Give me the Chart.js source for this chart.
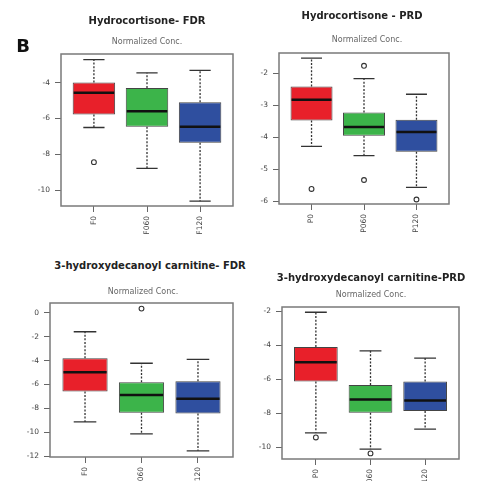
<!DOCTYPE html>
<html>
<head>
<meta charset="utf-8">
<script src="https://cdn.jsdelivr.net/npm/chart.js@4.4.1/dist/chart.umd.min.js"></script>
<style>
  body { margin: 0; background: #fff; }
  #page { position: relative; width: 480px; height: 481px; overflow: hidden; background: #fff; }
  canvas { position: absolute; }
  .txt { position: absolute; white-space: nowrap; transform: translateX(-50%); font-family: "DejaVu Sans", sans-serif; }
  .title { font-size: 10px; line-height: 12px; font-weight: bold; color: #222; }
  .sub { font-size: 8px; line-height: 10px; color: #666; }
</style>
</head>
<body>
<div id="page">
  <canvas id="c1" width="225" height="200" style="left:15px;top:40px"></canvas>
  <canvas id="c2" width="240" height="200" style="left:240px;top:40px"></canvas>
  <canvas id="c3" width="235" height="196" style="left:5px;top:285px"></canvas>
  <canvas id="c4" width="240" height="196" style="left:240px;top:285px"></canvas>

  <div class="txt" style="left:23px;top:36px;font-size:18px;line-height:20px;font-weight:bold;color:#111">B</div>
  <div class="txt title" style="left:147px;top:15px">Hydrocortisone- FDR</div>
  <div class="txt sub" style="left:147px;top:37px">Normalized Conc.</div>
  <div class="txt title" style="left:362px;top:10px">Hydrocortisone - PRD</div>
  <div class="txt sub" style="left:367px;top:35px">Normalized Conc.</div>
  <div class="txt title" style="left:150px;top:260px">3-hydroxydecanoyl carnitine- FDR</div>
  <div class="txt sub" style="left:143px;top:287px">Normalized Conc.</div>
  <div class="txt title" style="left:371px;top:272px">3-hydroxydecanoyl carnitine-PRD</div>
  <div class="txt sub" style="left:371px;top:290px">Normalized Conc.</div>
</div>
<script>
const fdrLabels = ['F0', 'F060', 'F120'];
const prdLabels = ['P0', 'P060', 'P120'];
const boxColors = ['#e8202a', '#3cb44a', '#2f4f9f'];

// Hydrocortisone - FDR
const hcFdrLow = [-6.5, -8.78, -10.6];
const hcFdrQ1 = [-5.78, -6.46, -7.35];
const hcFdrMed = [-4.57, -5.59, -6.46];
const hcFdrQ3 = [-4.0, -4.3, -5.09];
const hcFdrHigh = [-2.72, -3.46, -3.32];
const hcFdrOut = [[-8.43], [], []];
const hcFdrTicks = [-10, -8, -6, -4];

// Hydrocortisone - PRD
const hcPrdLow = [-4.29, -4.58, -5.57];
const hcPrdQ1 = [-3.48, -3.96, -4.46];
const hcPrdMed = [-2.83, -3.68, -3.84];
const hcPrdQ3 = [-2.42, -3.23, -3.46];
const hcPrdHigh = [-1.53, -2.17, -2.66];
const hcPrdOut = [[-5.62], [-1.77, -5.34], [-5.95]];
const hcPrdTicks = [-6, -5, -4, -3, -2];

// 3-hydroxydecanoyl carnitine - FDR
const hdcFdrLow = [-9.14, -10.14, -11.56];
const hdcFdrQ1 = [-6.58, -8.36, -8.44];
const hdcFdrMed = [-4.97, -6.89, -7.19];
const hdcFdrQ3 = [-3.81, -5.81, -5.72];
const hdcFdrHigh = [-1.58, -4.22, -3.89];
const hdcFdrOut = [[], [0.36], []];
const hdcFdrTicks = [-12, -10, -8, -6, -4, -2, 0];

// 3-hydroxydecanoyl carnitine - PRD
const hdcPrdLow = [-9.16, -10.12, -8.94];
const hdcPrdQ1 = [-6.14, -7.98, -7.88];
const hdcPrdMed = [-5.0, -7.2, -7.25];
const hdcPrdQ3 = [-4.1, -6.35, -6.14];
const hdcPrdHigh = [-2.06, -4.33, -4.76];
const hdcPrdOut = [[-9.43], [-10.37], []];
const hdcPrdTicks = [-10, -8, -6, -4, -2];

const tickFont = { family: 'DejaVu Sans', size: 7.5 };

function boxPlot(id, labels, s, yTicks, yMin, yMax, lay) {
  // whiskers, caps, medians and the frame, placed with the chart's scales
  const parts = {
    id: 'parts',
    beforeDatasetsDraw(chart) {
      const { ctx, scales: { x, y } } = chart;
      const bars = chart.getDatasetMeta(0).data;
      ctx.save();
      ctx.strokeStyle = '#333';
      ctx.lineWidth = 1.3;
      bars.forEach((bar, i) => {
        const cx = x.getPixelForValue(i + 1);
        const cap = bar.width / 4;
        ctx.setLineDash([2, 1.6]);
        ctx.beginPath();
        ctx.moveTo(cx, y.getPixelForValue(s.q3[i]));
        ctx.lineTo(cx, y.getPixelForValue(s.high[i]));
        ctx.moveTo(cx, y.getPixelForValue(s.q1[i]));
        ctx.lineTo(cx, y.getPixelForValue(s.low[i]));
        ctx.stroke();
        ctx.setLineDash([]);
        ctx.beginPath();
        ctx.moveTo(cx - cap, y.getPixelForValue(s.high[i]));
        ctx.lineTo(cx + cap, y.getPixelForValue(s.high[i]));
        ctx.moveTo(cx - cap, y.getPixelForValue(s.low[i]));
        ctx.lineTo(cx + cap, y.getPixelForValue(s.low[i]));
        ctx.stroke();
      });
      ctx.restore();
    },
    afterDatasetsDraw(chart) {
      const { ctx, chartArea: a, scales: { x, y } } = chart;
      const bars = chart.getDatasetMeta(0).data;
      ctx.save();
      ctx.strokeStyle = '#111';
      ctx.lineWidth = 2.5;
      bars.forEach((bar, i) => {
        const cx = x.getPixelForValue(i + 1);
        const py = y.getPixelForValue(s.med[i]);
        ctx.beginPath();
        ctx.moveTo(cx - bar.width / 2 + 1, py);
        ctx.lineTo(cx + bar.width / 2 - 1, py);
        ctx.stroke();
      });
      ctx.strokeStyle = '#7a7a7a';
      ctx.lineWidth = 1.5;
      ctx.strokeRect(a.left, a.top, a.right - a.left, a.bottom - a.top);
      ctx.restore();
    }
  };

  const outPoints = [];
  s.out.forEach((vals, i) => vals.forEach(v => outPoints.push({ x: i + 1, y: v })));

  new Chart(document.getElementById(id), {
    type: 'bar',
    data: {
      datasets: [{
        data: s.q1.map((v, i) => ({ x: i + 1, y: [v, s.q3[i]] })),
        backgroundColor: boxColors,
        borderColor: '#444',
        borderWidth: 1,
        borderSkipped: false,
        barPercentage: 0.8,
        categoryPercentage: 1
      }, {
        type: 'scatter',
        data: outPoints,
        pointStyle: 'circle',
        pointRadius: 2.4,
        pointBorderWidth: 1.1,
        pointBorderColor: '#333',
        pointBackgroundColor: 'rgba(0,0,0,0)'
      }]
    },
    options: {
      responsive: false,
      animation: false,
      layout: { padding: { top: lay.top, right: lay.right, left: 0, bottom: 0 } },
      plugins: { legend: { display: false }, tooltip: { enabled: false } },
      scales: {
        x: {
          type: 'linear',
          min: 0.38,
          max: 3.62,
          offset: false,
          border: { display: false },
          grid: { offset: false, drawOnChartArea: false, tickLength: 6, color: '#666' },
          afterBuildTicks: ax => { ax.ticks = labels.map((_, i) => ({ value: i + 1 })); },
          afterFit: ax => { ax.height = lay.xh; },
          ticks: {
            autoSkip: false, minRotation: 90, maxRotation: 90, padding: 4,
            color: '#444', font: tickFont,
            callback: v => labels[v - 1]
          }
        },
        y: {
          min: yMin,
          max: yMax,
          border: { display: false },
          grid: { drawOnChartArea: false, tickLength: 6, color: '#666' },
          afterBuildTicks: ax => { ax.ticks = yTicks.map(v => ({ value: v })); },
          afterFit: ax => { ax.width = lay.yw; },
          ticks: { padding: 5, color: '#444', font: tickFont, callback: v => String(v) }
        }
      }
    },
    plugins: [parts]
  });
}

boxPlot('c1', fdrLabels,
  { low: hcFdrLow, q1: hcFdrQ1, med: hcFdrMed, q3: hcFdrQ3, high: hcFdrHigh, out: hcFdrOut },
  hcFdrTicks, -10.87, -2.41, { top: 14, right: 7, yw: 46, xh: 34 });

boxPlot('c2', prdLabels,
  { low: hcPrdLow, q1: hcPrdQ1, med: hcPrdMed, q3: hcPrdQ3, high: hcPrdHigh, out: hcPrdOut },
  hcPrdTicks, -6.09, -1.37, { top: 13, right: 31, yw: 39, xh: 36 });

boxPlot('c3', fdrLabels,
  { low: hdcFdrLow, q1: hdcFdrQ1, med: hdcFdrMed, q3: hdcFdrQ3, high: hdcFdrHigh, out: hdcFdrOut },
  hdcFdrTicks, -12.08, 0.83, { top: 18, right: 7, yw: 45, xh: 24 });

boxPlot('c4', prdLabels,
  { low: hdcPrdLow, q1: hdcPrdQ1, med: hdcPrdMed, q3: hdcPrdQ3, high: hdcPrdHigh, out: hdcPrdOut },
  hdcPrdTicks, -10.7, -1.75, { top: 22, right: 21, yw: 42, xh: 22 });
</script>
</body>
</html>
